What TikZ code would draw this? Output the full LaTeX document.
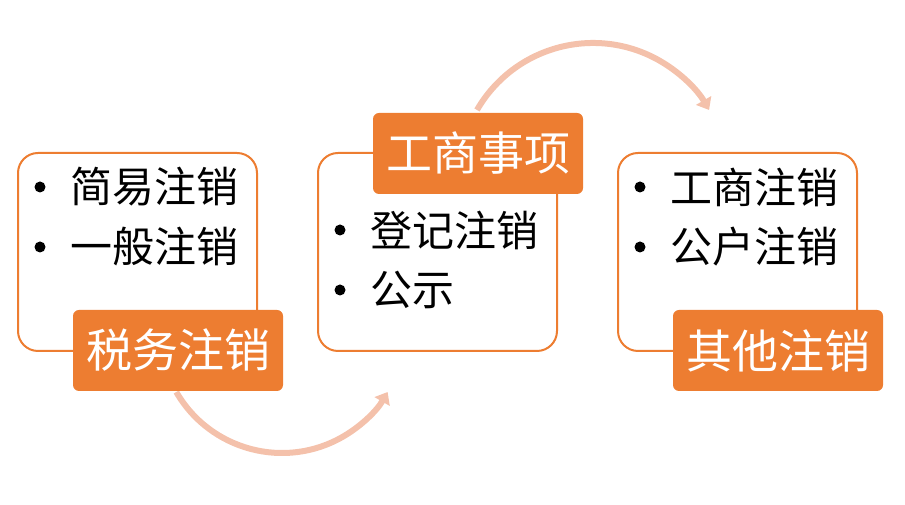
\documentclass[tikz,border=0pt]{standalone}
\usepackage{fontspec}
\newfontfamily\cjk{Noto Sans CJK SC}
\usetikzlibrary{arrows.meta}
\definecolor{accent}{HTML}{ED7D31}
\definecolor{arcc}{HTML}{F4C1AB}
\tikzset{
  x=1pt,y=1pt,
  panel/.style={draw=accent,line width=2pt,fill=white,rounded corners=20pt,minimum width=239pt,minimum height=198pt,inner sep=0pt},
  tag/.style={fill=accent,rounded corners=6pt,minimum width=210pt,minimum height=81pt,inner sep=0pt,text=white,font=\cjk\fontsize{46}{52}\selectfont},
  item/.style={anchor=west,inner sep=0pt,text=black,font=\cjk\fontsize{42}{48}\selectfont},
  dot/.style={circle,fill=black,inner sep=0pt,minimum size=11pt},
  flow/.style={draw=arcc,line width=6pt,-{Triangle[length=11pt,width=17pt]}}
}
\begin{document}
\begin{tikzpicture}
\useasboundingbox (0,0) rectangle (905,505);
% arcs
\coordinate (a1) at (176.3,113);
\coordinate (a2) at (477,395);
\draw[flow] (a1) arc[start angle=210,end angle=330,radius=122];
\draw[flow] (a2) arc[start angle=150,end angle=30,radius=134];
% panels
\node[panel] (p1) at (137.5,253) {};
\node[panel] (p2) at (437.5,253) {};
\node[panel] (p3) at (737.5,253) {};
% items panel 1
\node[dot] (b11) at (40,318) {};
\node[item] (t11) at (70,318) {简易注销};
\node[dot] (b12) at (40,258) {};
\node[item] (t12) at (70,258) {一般注销};
% items panel 2
\node[dot] (b21) at (340,275) {};
\node[item] (t21) at (370,275) {登记注销};
\node[dot] (b22) at (340,215) {};
\node[item] (t22) at (370,215) {公示};
% items panel 3
\node[dot] (b31) at (640,318) {};
\node[item] (t31) at (670,318) {工商注销};
\node[dot] (b32) at (640,258) {};
\node[item] (t32) at (670,258) {公户注销};
% tags
\node[tag] (l1) at (178,154.5) {税务注销};
\node[tag] (l2) at (478,351.5) {工商事项};
\node[tag] (l3) at (778,154.5) {其他注销};
\end{tikzpicture}
\end{document}
